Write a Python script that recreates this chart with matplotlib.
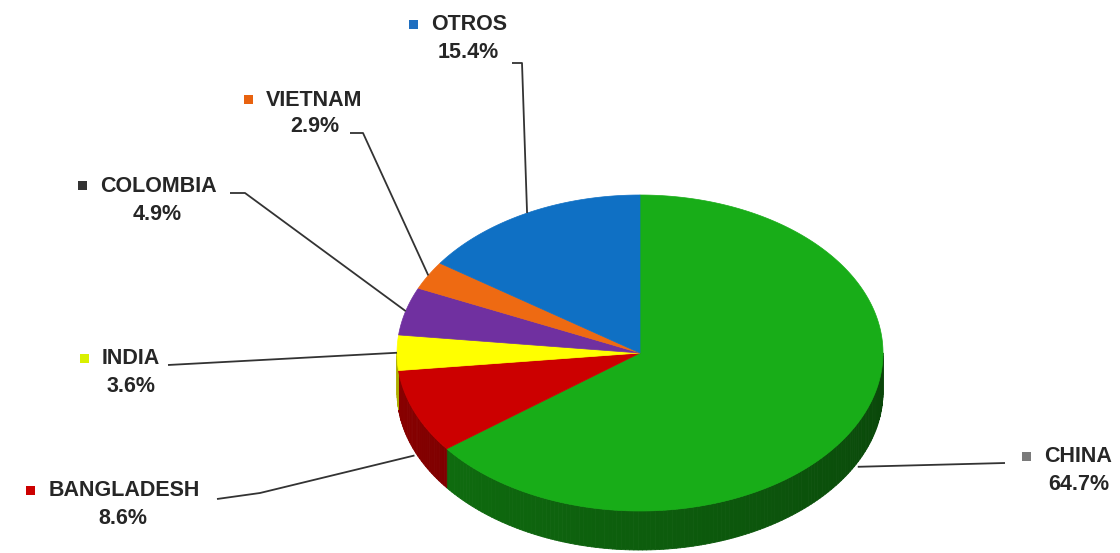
import numpy as np
import matplotlib
matplotlib.use("Agg")
import matplotlib.pyplot as plt
from matplotlib.collections import PolyCollection
from matplotlib.colors import to_rgb

# Share of imports by country of origin, clockwise from 12 o'clock
countries = ["CHINA", "BANGLADESH", "INDIA", "COLOMBIA", "VIETNAM", "OTROS"]
shares = [64.7, 8.6, 3.6, 4.9, 2.9, 15.4]
slice_colors = ["#18ad18", "#cc0000", "#ffff00", "#7030a0", "#ee6a12", "#0f70c4"]
marker_colors = ["#7a7a7a", "#cc0000", "#d9f000", "#333333", "#e8620f", "#1f6fc0"]

# label layout: (name centre x, name y, percent centre x, percent y)
label_pos = {
    "CHINA": (1078, 457, 1079, 485),
    "BANGLADESH": (124, 491, 123, 518),
    "INDIA": (131, 359, 131, 387),
    "COLOMBIA": (158, 186, 157, 214),
    "VIETNAM": (314, 100, 315, 126),
    "OTROS": (469, 25, 468, 53),
}
# leader line start and elbow points
leader_start = {
    "CHINA": [(1005, 463)],
    "BANGLADESH": [(217, 499), (260, 493)],
    "INDIA": [(168, 365)],
    "COLOMBIA": [(230, 193), (245, 193)],
    "VIETNAM": [(350, 133), (363, 133)],
    "OTROS": [(512, 63), (522, 63)],
}

W, H = 1120, 553
fig = plt.figure(figsize=(W / 100, H / 100), dpi=100)
ax = fig.add_axes([0, 0, 1, 1])
ax.set_xlim(0, W)
ax.set_ylim(H, 0)
ax.axis("off")

cx, cy, a, b, depth = 640, 353, 243, 158, 39


def edge(theta_deg):
    t = np.radians(theta_deg)
    return cx + a * np.sin(t), cy - b * np.cos(t)


total = sum(shares)
bounds = np.concatenate([[0], np.cumsum(shares) / total * 360])

# side walls (front half of the disc, 90..270 degrees)
polys, cols = [], []
for i in range(len(shares)):
    lo, hi = max(bounds[i], 90), min(bounds[i + 1], 270)
    if hi <= lo:
        continue
    n = max(2, int((hi - lo) / 1.0))
    th = np.linspace(lo, hi, n + 1)
    base = np.array(to_rgb(slice_colors[i]))
    for t0, t1 in zip(th[:-1], th[1:]):
        x0, y0 = edge(t0)
        x1, y1 = edge(t1)
        polys.append([(x0, y0), (x1, y1), (x1, y1 + depth), (x0, y0 + depth)])
        f = 0.40 + 0.28 * ((0.5 * (t0 + t1) - 90) / 180)
        cols.append(base * f)
ax.add_collection(PolyCollection(polys, facecolors=cols, edgecolors=cols,
                                 linewidths=0.6, zorder=1))

# top faces
for i in range(len(shares)):
    th = np.linspace(bounds[i], bounds[i + 1], max(3, int(bounds[i + 1] - bounds[i]) * 2))
    xs, ys = edge(th)
    verts = [(cx, cy)] + list(zip(xs, ys))
    ax.add_patch(plt.Polygon(verts, closed=True, facecolor=slice_colors[i],
                             edgecolor=slice_colors[i], linewidth=0.5, zorder=2))

# labels and leader lines
fig.canvas.draw()
renderer = fig.canvas.get_renderer()
font = dict(family=["Liberation Sans", "DejaVu Sans"], fontweight="bold",
            fontsize=15.5, color="#262626")
for i, name in enumerate(countries):
    nx, ny, px, py = label_pos[name]
    t = ax.text(nx, ny, name, ha="center", va="center", zorder=5, **font)
    ax.text(px, py, f"{shares[i]:.1f}%", ha="center", va="center", zorder=5, **font)
    bb = t.get_window_extent(renderer)
    left = ax.transData.inverted().transform((bb.x0, 0))[0]
    ax.add_patch(plt.Rectangle((left - 22, ny - 5), 9, 9, facecolor=marker_colors[i],
                               edgecolor="none", zorder=5))

    mid = 0.5 * (bounds[i] + bounds[i + 1])
    ex, ey = edge(mid)
    if np.cos(np.radians(mid)) < -0.05:
        ey += depth * 1.12
    pts = leader_start[name] + [(ex, ey)]
    ax.plot([p[0] for p in pts], [p[1] for p in pts], color="#333333",
            lw=1.3, zorder=4, solid_capstyle="butt")

fig.savefig("out.png", dpi=100, facecolor="white")
